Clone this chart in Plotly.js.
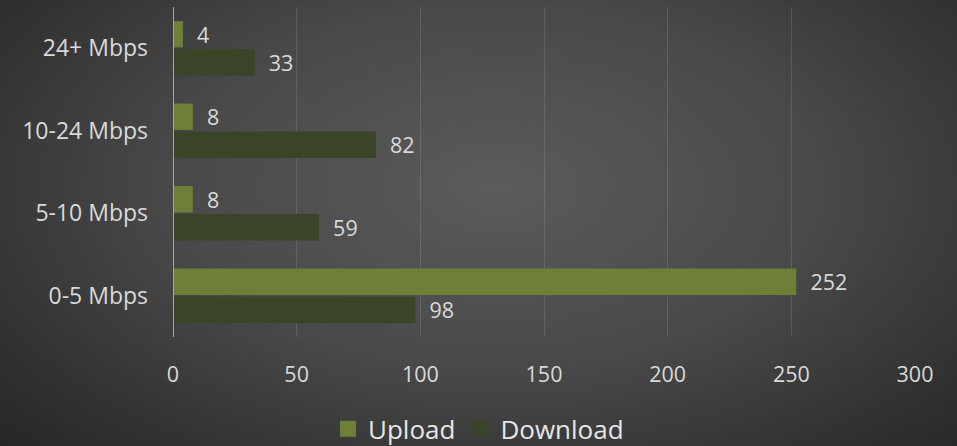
<!DOCTYPE html>
<html><head><meta charset="utf-8">
<script src="https://cdn.plot.ly/plotly-3.0.1.min.js"></script>
<style>
html,body{margin:0;padding:0;}
#chart{width:957px;height:446px;background:radial-gradient(ellipse 75% 90% at 52% 42%, #5b5b5b 0%, #494949 45%, #303030 80%, #232323 100%);}
</style></head>
<body><div id="chart"></div>
<script>
const categories = ["0-5 Mbps", "5-10 Mbps", "10-24 Mbps", "24+ Mbps"];
const uploadValues = [252, 8, 8, 4];
const downloadValues = [98, 59, 82, 33];
const xTicks = [0, 50, 100, 150, 200, 250, 300];
const uploadColor = "#6e7f3a";
const downloadColor = "#3a4429";

const textFont = {family: "Open Sans, Noto Sans, sans-serif", size: 21.5, color: "#d9d9d9"};
const catFont = {family: "Open Sans, Noto Sans, sans-serif", size: 23, color: "#d9d9d9"};

const traces = [
  {type: "bar", orientation: "h", name: "Download", y: categories, x: downloadValues,
   marker: {color: downloadColor}, text: downloadValues.map(v => "  " + v), textposition: "outside",
   constraintext: "none", textfont: textFont, cliponaxis: false, showlegend: false},
  {type: "bar", orientation: "h", name: "Upload", y: categories, x: uploadValues,
   marker: {color: uploadColor}, text: uploadValues.map(v => "  " + v), textposition: "outside",
   constraintext: "none", textfont: textFont, cliponaxis: false, showlegend: false},
  {type: "scatter", mode: "markers", name: "Download", x: [null], y: [null],
   marker: {symbol: "square", size: 18, color: downloadColor}, showlegend: true},
  {type: "scatter", mode: "markers", name: "Upload", x: [null], y: [null],
   marker: {symbol: "square", size: 18, color: uploadColor}, showlegend: true}
];

const layout = {
  width: 957, height: 446,
  paper_bgcolor: "rgba(0,0,0,0)", plot_bgcolor: "rgba(0,0,0,0)",
  margin: {l: 173, r: 42, t: 7, b: 109},
  barmode: "group", bargap: 0.32, bargroupgap: 0.06,
  font: textFont,
  xaxis: {range: [0, 300], tickvals: xTicks, ticktext: xTicks.map(String),
    showgrid: true, gridcolor: "rgba(255,255,255,0.12)", gridwidth: 1,
    zeroline: false, showline: false, ticks: "", ticklabelstandoff: 22,
    tickfont: textFont, fixedrange: true},
  yaxis: {type: "category", categoryorder: "array", categoryarray: categories,
    showgrid: false, zeroline: false, showline: false, ticks: "", ticklabelstandoff: 24,
    tickfont: catFont, fixedrange: true},
  shapes: [{type: "line", xref: "x", yref: "paper", x0: 0, x1: 0, y0: 0, y1: 1,
    line: {color: "#a6a6a6", width: 2}}],
  showlegend: true,
  legend: {orientation: "h", x: 0.5, xanchor: "center", xref: "container", y: 0.091, yref: "container", yanchor: "top",
    traceorder: "reversed", font: {family: "Open Sans, Noto Sans, sans-serif", size: 26, color: "#e6e6e6"},
    bgcolor: "rgba(0,0,0,0)", itemwidth: 30, itemsizing: "trace"}
};

Plotly.newPlot("chart", traces, layout, {displayModeBar: false, staticPlot: true});
</script></body></html>
